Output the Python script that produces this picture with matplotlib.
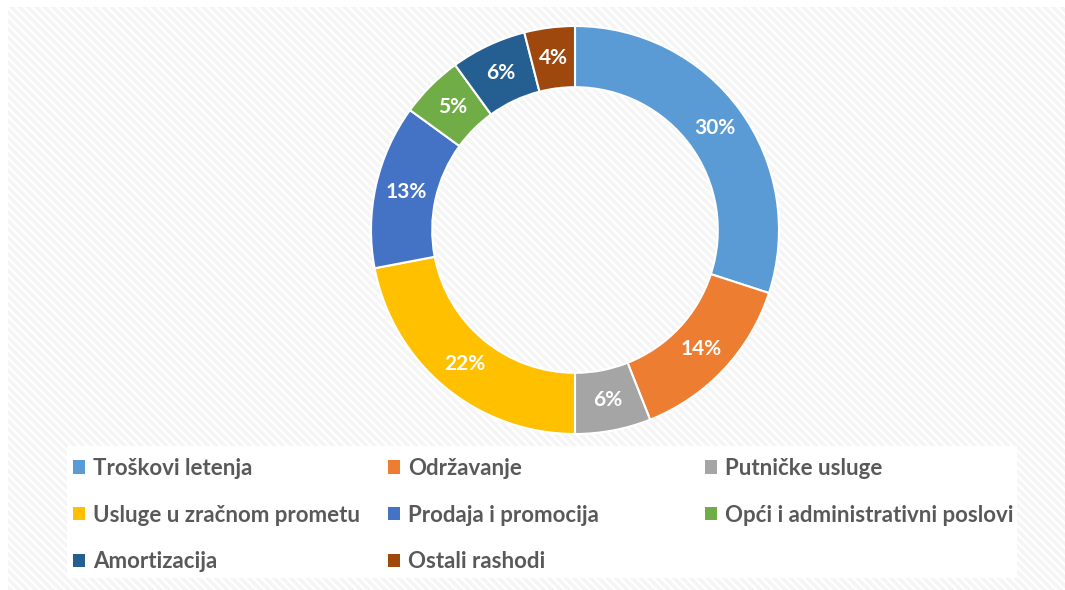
import matplotlib
matplotlib.use("Agg")
import matplotlib.pyplot as plt
from matplotlib.patches import Rectangle

# udjeli rashoda (%)
categories = ['Troškovi letenja', 'Održavanje', 'Putničke usluge',
              'Usluge u zračnom prometu', 'Prodaja i promocija',
              'Opći i administrativni poslovi', 'Amortizacija', 'Ostali rashodi']
shares = [30, 14, 6, 22, 13, 5, 6, 4]
colors = ['#5B9BD5', '#ED7D31', '#A5A5A5', '#FFC000',
          '#4472C4', '#70AD47', '#255E91', '#9E480E']

plt.rcParams['font.family'] = ['Lato', 'DejaVu Sans']
plt.rcParams['hatch.linewidth'] = 1.6

W, H = 1065, 590
fig = plt.figure(figsize=(W / 100, H / 100), dpi=100)

# pozadina s dijagonalnim uzorkom
bg = Rectangle((8 / W, 0), 1 - 8 / W, 1 - 7 / H, transform=fig.transFigure,
               facecolor='#f5f5f5', edgecolor='white', hatch='\\\\\\\\', linewidth=0, zorder=-3)
fig.patches.append(bg)

# bijela podloga legende
lg = Rectangle((67 / W, 1 - 578 / H), (1017 - 67) / W, (578 - 446) / H,
               transform=fig.transFigure, facecolor='white', edgecolor='none', zorder=-2)
fig.patches.append(lg)

cx, cy, R = 575, 230, 204
ax = fig.add_axes([(cx - R) / W, (H - cy - R) / H, 2 * R / W, 2 * R / H])
ax.set_facecolor('none')
ax.set_zorder(2)
wedges, texts, autotexts = ax.pie(shares, colors=colors, startangle=90, counterclock=False,
                                  radius=1, wedgeprops=dict(width=0.3, edgecolor='white', linewidth=1.5),
                                  autopct='%1.0f%%', pctdistance=0.85,
                                  textprops=dict(color='white', fontsize=15, fontweight='bold'))
ax.set_xlim(-1, 1)
ax.set_ylim(-1, 1)
ax.set_aspect('equal')
ax.axis('off')

# legenda u tri stupca
col_x = [73, 388, 705]
groups = [[0, 3, 6], [1, 4, 7], [2, 5]]
for x, idx in zip(col_x, groups):
    leg = fig.legend([wedges[i] for i in idx], [categories[i] for i in idx],
                     loc='upper left', bbox_to_anchor=(x / W, 1 - 458 / H),
                     frameon=False, fontsize=16, handlelength=0.55, handleheight=0.55,
                     handletextpad=0.35, labelspacing=1.15, borderpad=0, borderaxespad=0)
    leg.set_zorder(3)
    for t in leg.get_texts():
        t.set_color('#595959')
        t.set_fontweight('bold')
    for h in leg.legend_handles:
        h.set_edgecolor('none')

fig.savefig('out.png', dpi=100)
